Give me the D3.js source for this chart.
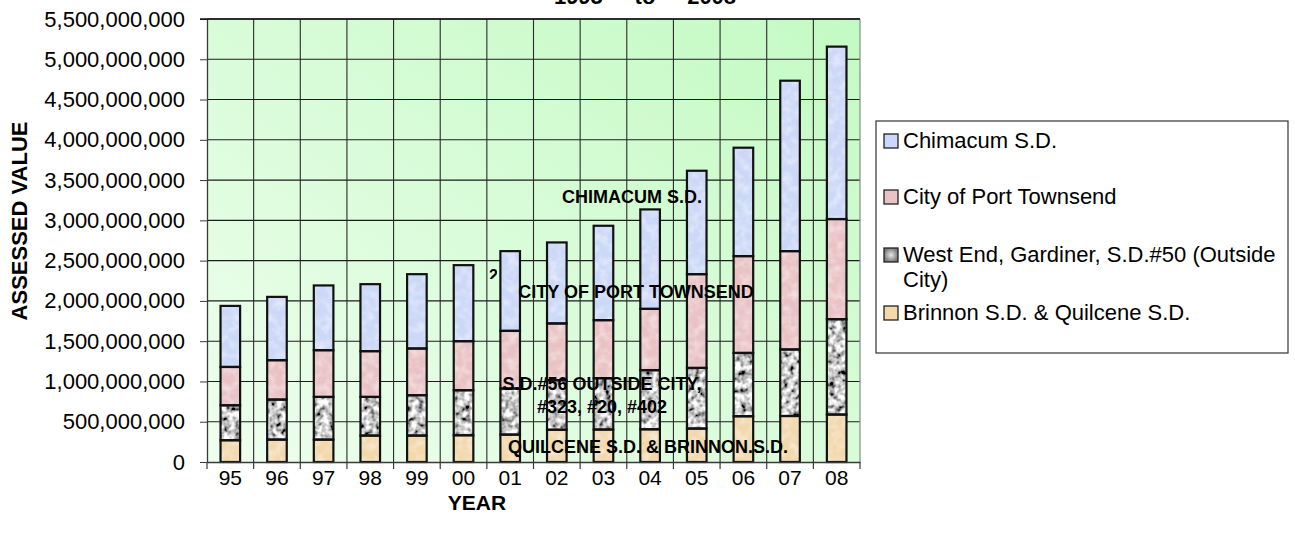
<!DOCTYPE html>
<html><head><meta charset="utf-8">
<script src="https://cdn.jsdelivr.net/npm/d3@7"></script>
<style>
body{margin:0;background:#fff}
svg{display:block}
text{font-family:"Liberation Sans",Arial,sans-serif;fill:#000}
</style>
</head><body>
<svg id="c" width="1295" height="537"></svg>
<script>
// ---- data (values in dollars) ----
const years = ["95","96","97","98","99","00","01","02","03","04","05","06","07","08"];
const brinnonQuilcene = [270,278,278,328,328,332,340,400,403,406,415,568,571,589].map(v=>v*1e6);
const westEndGardiner = [434,497,530,480,501,559,572,615,637,734,753,786,826,1184].map(v=>v*1e6);
const portTownsend    = [476,489,580,568,580,609,716,705,721,761,1164,1202,1221,1243].map(v=>v*1e6);
const chimacum        = [758,786,804,832,923,944,990,1006,1172,1235,1284,1346,2116,2141].map(v=>v*1e6);
const seriesKeys = ["brinnon","west","city","chim"];
const legendLabels = [
  ["Chimacum S.D."],
  ["City of Port Townsend"],
  ["West End, Gardiner, S.D.#50 (Outside","City)"],
  ["Brinnon S.D. & Quilcene S.D."]
];
const yTickValues = [0,500e6,1000e6,1500e6,2000e6,2500e6,3000e6,3500e6,4000e6,4500e6,5000e6,5500e6];
const titleText = "1995\u00a0 -\u00a0 to\u00a0 -\u00a0 2008";
const innerLabels = [
  {t:"CHIMACUM S.D.", x:632, y:203},
  {t:"CITY OF PORT TOWNSEND", x:636, y:298},
  {t:"S.D.#56 OUTSIDE CITY,", x:602, y:390},
  {t:"#323, #20, #402", x:602, y:413},
  {t:"QUILCENE S.D. & BRINNON.S.D.", x:648, y:453}
];

const table = years.map((yr,i)=>({year:yr, brinnon:brinnonQuilcene[i], west:westEndGardiner[i], city:portTownsend[i], chim:chimacum[i]}));

const svg = d3.select("#c");
const defs = svg.append("defs");

// background gradient
const bg = defs.append("linearGradient").attr("id","bg").attr("x1","0").attr("y1","1").attr("x2","1").attr("y2","0");
bg.append("stop").attr("offset","0").attr("stop-color","#eefeee");
bg.append("stop").attr("offset","1").attr("stop-color","#c3fac3");

// marble (gray) filter
const fm = defs.append("filter").attr("id","marble").attr("x","0").attr("y","0").attr("width","1").attr("height","1");
fm.append("feTurbulence").attr("type","fractalNoise").attr("baseFrequency","0.17").attr("numOctaves","2").attr("seed","4").attr("result","n");
fm.append("feColorMatrix").attr("in","n").attr("type","matrix")
  .attr("values","2.2 0 0 0 -0.52  2.2 0 0 0 -0.52  2.2 0 0 0 -0.52  0 0 0 0 1").attr("result","g");
fm.append("feComposite").attr("in","g").attr("in2","SourceGraphic").attr("operator","in");

// soft mottle filter for colored fills
const fs = defs.append("filter").attr("id","mottle").attr("x","0").attr("y","0").attr("width","1").attr("height","1");
fs.append("feTurbulence").attr("type","fractalNoise").attr("baseFrequency","0.12").attr("numOctaves","2").attr("seed","7").attr("result","n");
fs.append("feColorMatrix").attr("in","n").attr("type","matrix")
  .attr("values","0 0 0 0 1  0 0 0 0 1  0 0 0 0 1  0.9 0 0 0 -0.35").attr("result","w");
fs.append("feComposite").attr("in","w").attr("in2","SourceGraphic").attr("operator","in").attr("result","w2");
const mg = fs.append("feMerge");
mg.append("feMergeNode").attr("in","SourceGraphic");
mg.append("feMergeNode").attr("in","w2");

const grayGrad = defs.append("radialGradient").attr("id","graysw");
grayGrad.append("stop").attr("offset","0").attr("stop-color","#e8e8e8");
grayGrad.append("stop").attr("offset","1").attr("stop-color","#7a7a7a");

const colors = {chim:"#cbd8f7", city:"#e9c2c5", west:"#a0a0a0", brinnon:"#f2d8ab"};
const filters = {chim:"url(#mottle)", city:"url(#mottle)", west:"url(#marble)", brinnon:"url(#mottle)"};

// scales
const x = d3.scaleBand().domain(years).range([207,860]).padding(0);
const y = d3.scaleLinear().domain([0,5500e6]).range([462,19]);
const barW = x.bandwidth()*0.42;

// plot background
svg.append("rect").attr("x",x.range()[0]).attr("y",y(5500e6)).attr("width",x.range()[1]-x.range()[0])
  .attr("height",y(0)-y(5500e6)).attr("fill","url(#bg)");

// gridlines
svg.append("g").selectAll("line").data(yTickValues.filter(d=>d>0)).join("line")
  .attr("x1",x.range()[0]).attr("x2",x.range()[1]).attr("y1",d=>y(d)).attr("y2",d=>y(d))
  .attr("stroke","#1c1c1c").attr("stroke-width",1.1);
svg.append("g").selectAll("line").data(years.slice(1)).join("line")
  .attr("x1",d=>x(d)).attr("x2",d=>x(d)).attr("y1",y(5500e6)).attr("y2",y(0))
  .attr("stroke","#2a2a2a").attr("stroke-width",1.1);
// right border
svg.append("line").attr("x1",x.range()[1]).attr("x2",x.range()[1]).attr("y1",y(5500e6)).attr("y2",y(0))
  .attr("stroke","#8a8a8a").attr("stroke-width",1.2);

// bars
const stack = d3.stack().keys(seriesKeys)(table);
const gBars = svg.append("g");
stack.forEach(layer=>{
  const k = layer.key;
  gBars.append("g").selectAll("rect").data(layer).join("rect")
    .attr("x",d=>x(d.data.year)+(x.bandwidth()-barW)/2)
    .attr("y",d=>y(d[1])).attr("width",barW).attr("height",d=>y(d[0])-y(d[1]))
    .attr("fill",colors[k]).attr("filter",filters[k]);
});
stack.forEach(layer=>{
  gBars.append("g").selectAll("rect").data(layer).join("rect")
    .attr("x",d=>x(d.data.year)+(x.bandwidth()-barW)/2)
    .attr("y",d=>y(d[1])).attr("width",barW).attr("height",d=>y(d[0])-y(d[1]))
    .attr("fill","none").attr("stroke","#111").attr("stroke-width",2.2);
});

// y axis
const yAxis = svg.append("g").attr("transform",`translate(${x.range()[0]},0)`)
  .call(d3.axisLeft(y).tickValues(yTickValues).tickFormat(d3.format(",")).tickSize(7).tickSizeOuter(0).tickPadding(15));
yAxis.select(".domain").attr("stroke","#3a3a3a").attr("stroke-width",1.3);
yAxis.selectAll(".tick line").attr("stroke","#3a3a3a");
yAxis.selectAll("text").attr("font-size",22).attr("font-family","Liberation Sans, Arial, sans-serif");
// top border
svg.append("line").attr("x1",x.range()[0]-7).attr("x2",x.range()[1]).attr("y1",y(5500e6)).attr("y2",y(5500e6))
  .attr("stroke","#111").attr("stroke-width",1.3);

// x axis
const xAxis = svg.append("g").attr("transform",`translate(0,${y(0)})`)
  .call(d3.axisBottom(x).tickSize(0).tickSizeOuter(0).tickPadding(8));
xAxis.select(".domain").attr("stroke","#3a3a3a").attr("stroke-width",1.3);
xAxis.selectAll("text").attr("font-size",21).attr("font-family","Liberation Sans, Arial, sans-serif");
svg.append("g").selectAll("line").data(years.concat(["end"])).join("line")
  .attr("x1",d=>d==="end"?x.range()[1]:x(d)).attr("x2",d=>d==="end"?x.range()[1]:x(d))
  .attr("y1",y(0)).attr("y2",y(0)+7).attr("stroke","#3a3a3a").attr("stroke-width",1.2);

// axis titles
svg.append("text").attr("transform","translate(27,221) rotate(-90)").attr("text-anchor","middle")
  .attr("font-size",22).attr("font-weight","bold").text("ASSESSED VALUE");
svg.append("text").attr("x",477).attr("y",510).attr("text-anchor","middle")
  .attr("font-size",21).attr("font-weight","bold").text("YEAR");

// title (mostly above the visible area, as in the reference)
svg.append("text").attr("x",645).attr("y",4).attr("text-anchor","middle")
  .attr("font-size",22).attr("font-weight","bold").text(titleText);

// inner labels
svg.append("g").selectAll("text").data(innerLabels).join("text")
  .attr("x",d=>d.x).attr("y",d=>d.y).attr("text-anchor","middle")
  .attr("font-size",18).attr("font-weight","bold").text(d=>d.t);

// stray clipped glyph
defs.append("clipPath").attr("id","strayclip").append("rect").attr("x",488).attr("y",262).attr("width",9).attr("height",17);
svg.append("text").attr("x",489).attr("y",281).attr("font-size",16).attr("font-weight","bold")
  .attr("clip-path","url(#strayclip)").text("2");

// legend
const lg = svg.append("g");
lg.append("rect").attr("x",876).attr("y",121).attr("width",412).attr("height",232)
  .attr("fill","#fff").attr("stroke","#333").attr("stroke-width",1.2);
const legendItems = [
  {k:"chim", lines:legendLabels[0], base:148},
  {k:"city", lines:legendLabels[1], base:204},
  {k:"west", lines:legendLabels[2], base:262},
  {k:"brinnon", lines:legendLabels[3], base:320}
];
legendItems.forEach(it=>{
  lg.append("rect").attr("x",884).attr("y",it.base-14).attr("width",14).attr("height",14)
    .attr("fill",it.k==="west"?"url(#graysw)":colors[it.k]).attr("stroke","#222").attr("stroke-width",1.3);
  it.lines.forEach((ln,j)=>{
    lg.append("text").attr("x",903).attr("y",it.base+j*25).attr("font-size",22).text(ln);
  });
});
</script>
</body></html>
